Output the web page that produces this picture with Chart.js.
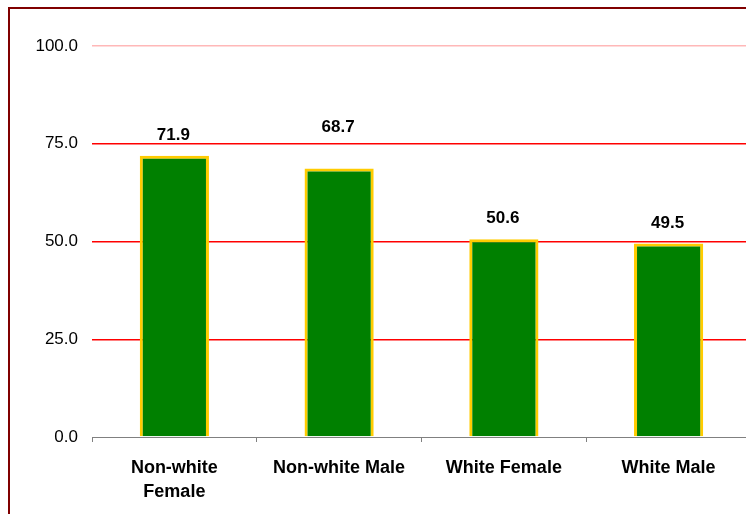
<!DOCTYPE html>
<html>
<head>
<meta charset="utf-8">
<script src="https://cdn.jsdelivr.net/npm/chart.js@4"></script>
<style>
    html, body { margin: 0; padding: 0; background: #fff; overflow: hidden; }
    #wrap { width: 746px; height: 514px; overflow: hidden; }
    #box { width: 760px; height: 514px; }
</style>
</head>
<body>
<div id="wrap"><div id="box"><canvas id="chart" width="760" height="514"></canvas></div></div>
<script>
const categories = [["Non-white", "Female"], "Non-white Male", "White Female", "White Male"];
const values = [71.9, 68.7, 50.6, 49.5];
const yMin = 0;
const yMax = 100;
const yStep = 25;

const FONT = "'Liberation Sans', Arial, sans-serif";

// outer dark red frame, it runs off the right and bottom edges
const framePlugin = {
    id: "frame",
    beforeDraw(chart) {
        const ctx = chart.ctx;
        ctx.save();
        ctx.strokeStyle = "#800000";
        ctx.lineWidth = 2;
        ctx.strokeRect(9, 8, 1200, 1200);
        ctx.restore();
    }
};

// value labels above the bars
const valueLabels = {
    id: "valueLabels",
    afterDatasetsDraw(chart, args, opts) {
        const ctx = chart.ctx;
        const meta = chart.getDatasetMeta(0);
        ctx.save();
        ctx.font = "bold 17px " + FONT;
        ctx.fillStyle = "#000";
        ctx.textAlign = "center";
        ctx.textBaseline = "middle";
        meta.data.forEach((bar, i) => {
            const v = chart.data.datasets[0].data[i];
            ctx.fillText(v.toFixed(1), bar.x - 1, bar.y - opts.offsets[i]);
        });
        ctx.restore();
    }
};

new Chart(document.getElementById("chart"), {
    type: "bar",
    data: {
        labels: categories,
        datasets: [{
            data: values,
            backgroundColor: "#008000",
            borderColor: "#FFCC00",
            borderWidth: 3,
            barPercentage: 0.42,
            categoryPercentage: 1.0
        }]
    },
    options: {
        responsive: false,
        animation: false,
        layout: { padding: { top: 46, right: 9, left: 0, bottom: 0 } },
        scales: {
            x: {
                grid: {
                    offset: true,
                    drawOnChartArea: false,
                    drawTicks: true,
                    tickLength: 5,
                    color: "#808080"
                },
                border: { display: true, color: "#808080", width: 1 },
                ticks: {
                    color: "#000",
                    padding: 14,
                    maxRotation: 0,
                    font: { family: FONT, size: 18, weight: "bold", lineHeight: 1.33 }
                },
                afterFit(scale) { scale.height = 77; }
            },
            y: {
                min: yMin,
                max: yMax,
                ticks: {
                    stepSize: yStep,
                    padding: 14,
                    color: "#000",
                    font: { family: FONT, size: 17 },
                    callback: (v) => v.toFixed(1)
                },
                grid: {
                    drawTicks: false,
                    lineWidth: 1.5,
                    color: (c) => {
                        if (c.index === 0) return "rgba(0,0,0,0)";
                        if (c.tick && c.tick.value === yMax) return "#FFB8B8";
                        return "#FF0000";
                    }
                },
                border: { display: false },
                afterFit(scale) { scale.width = 92; }
            }
        },
        plugins: {
            legend: { display: false },
            tooltip: { enabled: false },
            valueLabels: { offsets: [21, 41, 21, 20] }
        }
    },
    plugins: [framePlugin, valueLabels]
});
</script>
</body>
</html>
